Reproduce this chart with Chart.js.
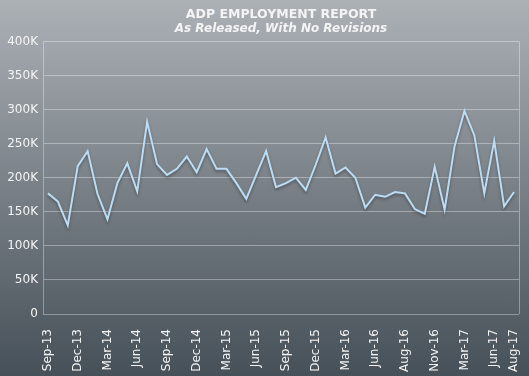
<!DOCTYPE html>
<html>
<head>
<meta charset="utf-8">
<script src="https://cdn.jsdelivr.net/npm/chart.js@4/dist/chart.umd.min.js"></script>
<style>
  html, body { margin: 0; padding: 0; }
  body { width: 529px; height: 376px; background: linear-gradient(#acb1b6, #465058); }
  #wrap { width: 529px; height: 376px; }
</style>
</head>
<body>
<div id="wrap"><canvas id="adp-chart"></canvas></div>
<script>
// tick labels, one per month (blank = no label shown)
var labels = [
    "Sep-13", "", "", "Dec-13", "", "", "Mar-14", "", "", "Jun-14", "", "",
    "Sep-14", "", "", "Dec-14", "", "", "Mar-15", "", "", "Jun-15", "", "",
    "Sep-15", "", "", "Dec-15", "", "", "Mar-16", "", "", "Jun-16", "", "",
    "Aug-16", "", "", "Nov-16", "", "", "Mar-17", "", "", "Jun-17", "", "Aug-17"
];

// ADP change, thousands
var adpValues = [
    177, 165, 130, 217, 239, 176, 139, 192, 221, 180, 282, 220,
    204, 213, 231, 208, 242, 213, 213, 192, 169, 204, 239, 186,
    192, 200, 182, 219, 259, 206, 215, 200, 156, 175, 172, 179,
    177, 154, 147, 216, 153, 246, 298, 262, 177, 254, 158, 179
];

var yTicks = ["0", "50K", "100K", "150K", "200K", "250K", "300K", "350K", "400K"];

var textColor = "#f4f4f4";
var gridColor = "rgba(255,255,255,0.35)";

// frame the plot area on the right
var frame = {
    id: "frame",
    afterDraw: function(chart) {
        var a = chart.chartArea, ctx = chart.ctx;
        ctx.save();
        ctx.strokeStyle = gridColor;
        ctx.lineWidth = 1;
        ctx.beginPath();
        ctx.moveTo(Math.round(a.right) + 0.5, a.top);
        ctx.lineTo(Math.round(a.right) + 0.5, a.bottom);
        ctx.stroke();
        ctx.restore();
    }
};

// soft shadow under the line
var lineShadow = {
    id: "lineShadow",
    beforeDatasetsDraw: function(chart) {
        var ctx = chart.ctx;
        ctx.save();
        ctx.shadowColor = "rgba(0,0,0,0.35)";
        ctx.shadowBlur = 3;
        ctx.shadowOffsetY = 2;
    },
    afterDatasetsDraw: function(chart) {
        chart.ctx.restore();
    }
};

new Chart(document.getElementById("adp-chart"), {
    type: "line",
    data: {
        labels: labels,
        datasets: [{
            label: "ADP",
            data: adpValues.map(function(v) { return v * 1000; }),
            borderColor: "#bcdcf3",
            borderWidth: 2,
            pointRadius: 0,
            tension: 0,
            fill: false
        }]
    },
    options: {
        responsive: true,
        maintainAspectRatio: false,
        animation: false,
        layout: { padding: { left: 0, right: 10, top: 0, bottom: 0 } },
        plugins: {
            legend: { display: false },
            tooltip: { enabled: false },
            title: {
                display: true,
                fullSize: false,
                text: "ADP EMPLOYMENT REPORT",
                color: textColor,
                font: { family: "DejaVu Sans", size: 12.5, weight: "bold" },
                padding: { top: 7, bottom: 0 }
            },
            subtitle: {
                display: true,
                fullSize: false,
                text: "As Released, With No Revisions",
                color: textColor,
                font: { family: "DejaVu Sans", size: 12, weight: "bold", style: "italic" },
                padding: { top: 0, bottom: 5 }
            }
        },
        scales: {
            x: {
                offset: true,
                grid: { display: false },
                border: { display: false },
                afterFit: function(s) {
                    s.height = 62;
                    s.paddingLeft = 0;
                    s.paddingRight = 0;
                },
                ticks: {
                    autoSkip: false,
                    maxRotation: 90,
                    minRotation: 90,
                    padding: 7,
                    color: textColor,
                    font: { family: "DejaVu Sans", size: 12 }
                }
            },
            y: {
                min: 0,
                max: 400000,
                afterFit: function(s) { s.width = 43; },
                grid: { color: gridColor, drawTicks: false },
                border: { color: gridColor },
                ticks: {
                    stepSize: 50000,
                    padding: 5,
                    color: textColor,
                    font: { family: "DejaVu Sans", size: 12 },
                    callback: function(v) { return yTicks[v / 50000]; }
                }
            }
        }
    },
    plugins: [frame, lineShadow]
});
</script>
</body>
</html>
